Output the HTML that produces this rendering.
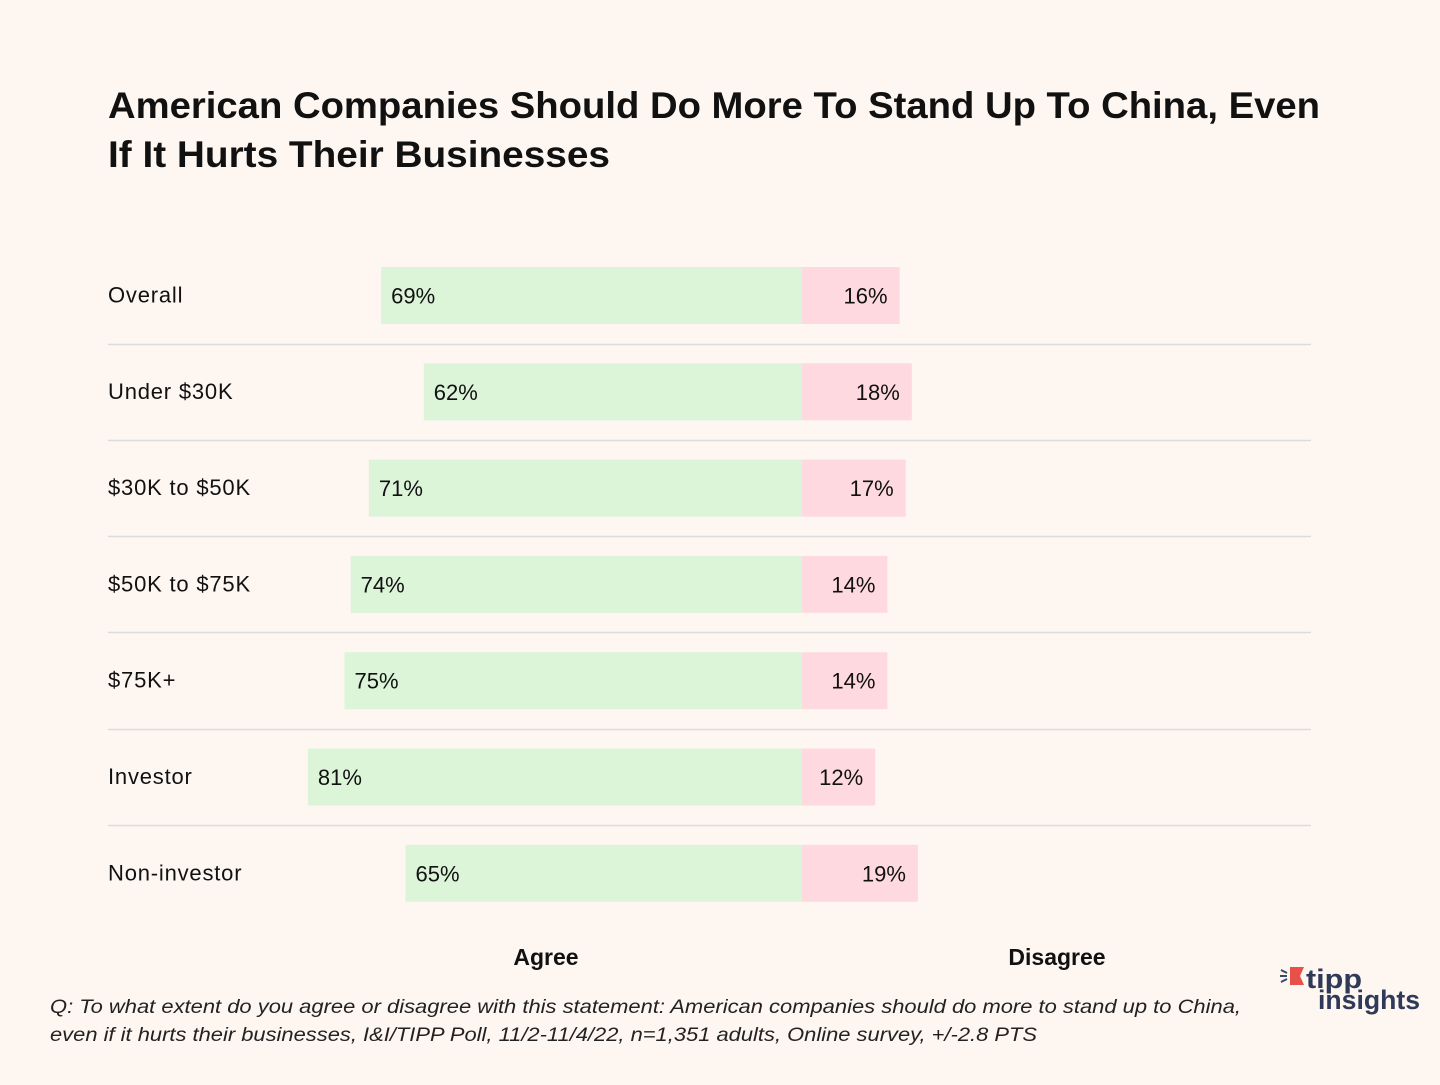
<!DOCTYPE html>
<html><head><meta charset="utf-8">
<style>
html,body{margin:0;padding:0;background:#fdf6f1;}
body{width:1440px;height:1080px;overflow:hidden;font-family:"Liberation Sans","DejaVu Sans",sans-serif;}
</style></head>
<body>
<svg id="chart" width="1440" height="1080" xmlns="http://www.w3.org/2000/svg">
<rect width="1440" height="1080" fill="#fdf6f1"/>
<text x="108" y="118" font-size="37" font-weight="bold" fill="#111" textLength="1212" lengthAdjust="spacingAndGlyphs">American Companies Should Do More To Stand Up To China, Even</text>
<text x="108" y="167" font-size="37" font-weight="bold" fill="#111" textLength="502" lengthAdjust="spacingAndGlyphs">If It Hurts Their Businesses</text>
<g id="rows"></g>
<text x="546" y="965" font-size="23" font-weight="bold" text-anchor="middle" fill="#111">Agree</text>
<text x="1057" y="965" font-size="23" font-weight="bold" text-anchor="middle" fill="#111">Disagree</text>
<text x="50" y="1013" font-size="19" font-style="italic" fill="#222" textLength="1191" lengthAdjust="spacingAndGlyphs">Q: To what extent do you agree or disagree with this statement: American companies should do more to stand up to China,</text>
<text x="50" y="1041" font-size="19" font-style="italic" fill="#222" textLength="987" lengthAdjust="spacingAndGlyphs">even if  it hurts their businesses, I&amp;I/TIPP Poll, 11/2-11/4/22, n=1,351 adults, Online survey, +/-2.8 PTS</text>
<g>
<polygon points="1290,967 1304,967 1300,976 1304,985 1290,985" fill="#e8504a"/>
<line x1="1281" y1="970" x2="1287" y2="973" stroke="#3a4a66" stroke-width="2"/>
<line x1="1280" y1="976" x2="1287" y2="976" stroke="#3a4a66" stroke-width="2"/>
<line x1="1281" y1="982" x2="1287" y2="979" stroke="#3a4a66" stroke-width="2"/>
<text x="1306" y="988" font-size="27" font-weight="bold" fill="#2f3a58" textLength="56" lengthAdjust="spacingAndGlyphs">tipp</text>
<text x="1318" y="1009" font-size="27" font-weight="bold" fill="#2f3a58" textLength="102" lengthAdjust="spacingAndGlyphs">insights</text>
</g>
</svg>
<script>
const categories = ["Overall","Under $30K","$30K to $50K","$50K to $75K","$75K+","Investor","Non-investor"];
const agreeValues = [69,62,71,74,75,81,65];
const disagreeValues = [16,18,17,14,14,12,19];

const NS = "http://www.w3.org/2000/svg";
const center = 802, scale = 6.1, top0 = 267, step = 96.3, barH = 57;
function xAgree(v){ return center - v*scale; }
function wVal(v){ return v*scale; }
function yRow(i){ return top0 + i*step; }
const g = document.getElementById("rows");
function mk(tag, attrs){ const e=document.createElementNS(NS,tag); for(const k in attrs) e.setAttribute(k,attrs[k]); g.appendChild(e); return e; }

categories.forEach((c,i)=>{
  const y = yRow(i);
  const lab = mk("text",{x:108,y:y+barH/2+7,"font-size":22,fill:"#111","letter-spacing":"0.8"});
  lab.textContent = c;
  
  

  const a = mk("rect",{x:xAgree(agreeValues[i]),y:y,width:wVal(agreeValues[i]),height:barH,fill:"#dcf5d9"});
  
  
  const at = mk("text",{x:xAgree(agreeValues[i])+10,y:y+barH/2+8,"font-size":22,fill:"#111"});
  at.textContent = agreeValues[i]+"%";
  
  

  const d = mk("rect",{x:center,y:y,width:wVal(disagreeValues[i]),height:barH,fill:"#ffd9e0"});
  
  
  const dt = mk("text",{x:center+wVal(disagreeValues[i])-12,y:y+barH/2+8,"font-size":22,fill:"#111","text-anchor":"end"});
  dt.textContent = disagreeValues[i]+"%";
  
  

  if(i < categories.length-1){
    const ly = Math.round(y + barH + 19.5)+0.5;
    const ln = mk("line",{x1:108,x2:1311,y1:ly,y2:ly,stroke:"#dcdcdc","stroke-width":1.5});
    
    
  }
});
</script>
</body></html>
